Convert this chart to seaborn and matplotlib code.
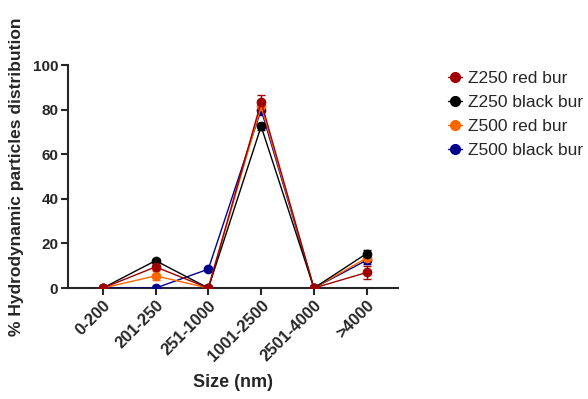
import numpy as np
import pandas as pd
import seaborn as sns
import matplotlib
matplotlib.use("Agg")
import matplotlib.pyplot as plt

# data
sizes = ["0-200", "201-250", "251-1000", "1001-2500", "2501-4000", ">4000"]
series = ["Z250 red bur", "Z250 black bur", "Z500 red bur", "Z500 black bur"]
z250_red = [0, 9.5, 0, 83.5, 0, 7.0]
z250_red_sd = [0, 1.0, 0, 3.0, 0, 3.0]
z250_black = [0, 12.3, 0, 72.5, 0, 15.5]
z250_black_sd = [0, 0.8, 0, 1.5, 0, 1.5]
z500_red = [0, 5.5, 0, 81.5, 0, 13.5]
z500_red_sd = [0, 2.0, 0, 2.0, 0, 1.0]
z500_black = [0, 0, 8.5, 80.0, 0, 12.5]
z500_black_sd = [0, 0, 1.0, 2.5, 0, 1.5]

colors = ["#a00000", "#000000", "#ff6600", "#00008b"]

values = [z250_red, z250_black, z500_red, z500_black]
sds = [z250_red_sd, z250_black_sd, z500_red_sd, z500_black_sd]

df = pd.DataFrame({
    "pos": np.tile(np.arange(len(sizes)), len(series)),
    "value": np.concatenate(values),
    "sd": np.concatenate(sds),
    "series": np.repeat(series, len(sizes)),
})

sns.set_style("ticks")
plt.rcParams["font.family"] = ["Liberation Sans", "DejaVu Sans"]

fig = plt.figure(figsize=(5.88, 3.99), dpi=100)
ax = fig.add_axes([0.1156, 0.278, 0.561, 0.559])

# draw in reverse so Z250 red bur sits on top
for name, col in reversed(list(zip(series, colors))):
    sub = df[df["series"] == name]
    ax.errorbar(sub["pos"], sub["value"], yerr=sub["sd"], fmt="none",
                ecolor=col, elinewidth=1, capsize=3, capthick=1, zorder=2)

sns.lineplot(data=df, x="pos", y="value", hue="series", hue_order=series[::-1],
             palette=colors[::-1], marker="o", markersize=7, markeredgewidth=0,
             linewidth=1, ax=ax, legend=False, zorder=3)

ax.set_xlim(-0.66, 5.59)
ax.set_ylim(0, 100)
ax.set_xticks(range(len(sizes)))
ax.set_xticklabels(sizes, rotation=45, ha="right", rotation_mode="anchor",
                   fontsize=12, fontweight="bold")
ax.set_yticks([0, 20, 40, 60, 80, 100])
ax.set_yticklabels([0, 20, 40, 60, 80, 100], fontsize=11, fontweight="bold")
ax.set_xlabel("Size (nm)", fontsize=13, fontweight="bold", labelpad=7)
ax.set_ylabel("% Hydrodynamic particles distribution", fontsize=12.5,
              fontweight="bold", labelpad=6)

for s in ["left", "bottom"]:
    ax.spines[s].set_linewidth(1.5)
sns.despine(ax=ax)
ax.tick_params(width=1.5, length=5, pad=2)

handles = [plt.Line2D([], [], color=c, marker="o", markersize=7, linewidth=1)
           for c in colors]
fig.legend(handles, series, loc="upper left", bbox_to_anchor=(0.75, 0.84),
           frameon=False, fontsize=12.5, handlelength=0.8, handletextpad=0.35,
           labelspacing=0.52, borderaxespad=0)

fig.savefig("out.png", dpi=100)
